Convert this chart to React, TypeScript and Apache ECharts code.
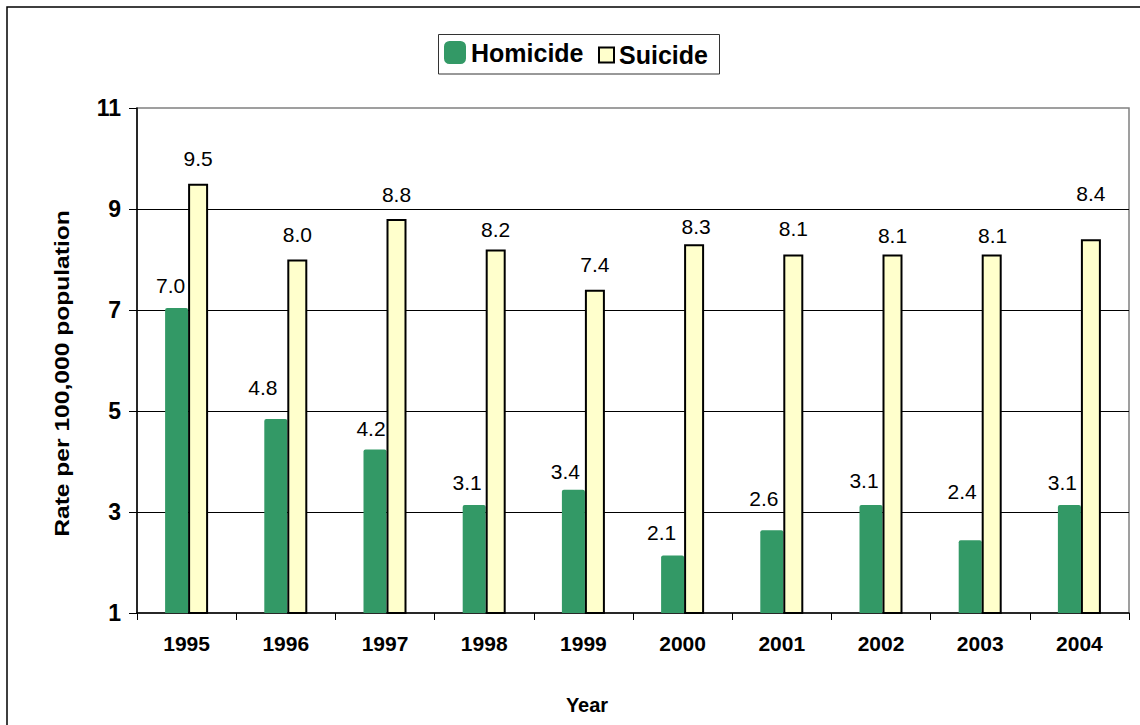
import React, { useEffect, useRef } from "react";
import * as echarts from "echarts";

const years = ["1995", "1996", "1997", "1998", "1999", "2000", "2001", "2002", "2003", "2004"];
const homicide = [7.04, 4.84, 4.24, 3.14, 3.44, 2.14, 2.64, 3.14, 2.44, 3.14];
const suicide = [9.5, 8.0, 8.8, 8.2, 7.4, 8.3, 8.1, 8.1, 8.1, 8.4];
const yTicks = [1, 3, 5, 7, 9, 11];
const yTitle = "Rate per 100,000 population";
const xTitle = "Year";

// label nudges (pixels) copied from the reference's hand-placed labels
const homicideLabelShift = [
  [-6, -12], [-13, -21], [-4, -10], [-7, -12], [-8, -8],
  [-11, -12], [-8, -21], [-7, -14], [-8, -38], [-7, -12],
];
const suicideLabelShift = [
  [0, -15], [0, -15], [0, -14], [0, -9], [0, -15],
  [2, -7], [0, -15], [0, -8], [1, -8], [0, -35],
];

const FONT = 'Arial, "Liberation Sans", Helvetica, sans-serif';

export default function App() {
  const ref = useRef<HTMLDivElement>(null);
  useEffect(() => {
    document.body.style.margin = "0";
    if (!ref.current) return;
    const chart = echarts.init(ref.current, null, { renderer: "svg" });
    const labelFmt = (p: any) => Number(p.value).toFixed(1);
    chart.setOption({
      animation: false,
      backgroundColor: "#ffffff",
      textStyle: { fontFamily: FONT },
      grid: {
        left: 137,
        right: 11,
        top: 108,
        bottom: 112,
        show: true,
        borderColor: "#808080",
        borderWidth: 1.5,
        backgroundColor: "transparent",
      },
      graphic: [
        {
          type: "rect",
          z: 0,
          shape: { x: 7, y: 7, width: 1150, height: 740 },
          style: { fill: "none", stroke: "#000", lineWidth: 1.5 },
        },
        {
          type: "rect",
          z: 0,
          shape: { x: 438.5, y: 34.5, width: 281, height: 39.5 },
          style: { fill: "none", stroke: "#333", lineWidth: 1 },
        },
        {
          type: "text",
          x: 62,
          y: 373.5,
          rotation: Math.PI / 2,
          scaleX: 1.23,
          style: {
            text: yTitle,
            fontFamily: FONT,
            fontWeight: "bold",
            fontSize: 20,
            fill: "#000",
            align: "center",
            verticalAlign: "middle",
          },
        },
      ],
      legend: [
        {
          data: ["Homicide"],
          left: 444,
          top: 40,
          padding: 0,
          itemWidth: 22,
          itemHeight: 23,
          icon: "roundRect",
          selectedMode: false,
          textStyle: {
            fontFamily: FONT,
            fontWeight: "bold",
            fontSize: 25,
            color: "#000",
          },
        },
        {
          data: ["Suicide"],
          left: 598,
          top: 42.5,
          padding: 0,
          itemWidth: 15,
          itemHeight: 15,
          icon: "rect",
          selectedMode: false,
          textStyle: {
            fontFamily: FONT,
            fontWeight: "bold",
            fontSize: 25,
            color: "#000",
          },
        },
      ],
      xAxis: {
        type: "category",
        data: years,
        axisLine: { show: true, lineStyle: { color: "#000", width: 1.5 } },
        axisTick: { show: true, length: 7, lineStyle: { color: "#000", width: 1 } },
        axisLabel: {
          fontFamily: FONT,
          fontWeight: "bold",
          fontSize: 21,
          color: "#000",
          margin: 20,
        },
        splitLine: { show: false },
        name: xTitle,
        nameLocation: "middle",
        nameGap: 82,
        nameTextStyle: {
          fontFamily: FONT,
          fontWeight: "bold",
          fontSize: 20,
          color: "#000",
          padding: [0, 92, 0, 0],
        },
      },
      yAxis: {
        type: "value",
        min: 1,
        max: 11,
        axisLine: { show: true, lineStyle: { color: "#000", width: 1.5 } },
        axisTick: { show: true, length: 8, lineStyle: { color: "#000", width: 1 }, customValues: yTicks },
        axisLabel: {
          customValues: yTicks,
          fontFamily: FONT,
          fontWeight: "bold",
          fontSize: 23,
          color: "#000",
          margin: 16,
        },
        splitLine: {
          show: true,
          showMinLine: false,
          showMaxLine: false,
          lineStyle: { color: "#000", width: 1 },
        },
      },
      series: [
        {
          name: "Homicide",
          type: "bar",
          barWidth: 23,
          barGap: "0%",
          itemStyle: { color: "#339966", borderRadius: [2, 2, 0, 0] },
          label: {
            show: true,
            position: "top",
            distance: 0,
            fontFamily: FONT,
            fontSize: 21,
            color: "#000",
            formatter: labelFmt,
          },
          data: homicide.map((v, i) => ({ value: v, label: { offset: homicideLabelShift[i] } })),
        },
        {
          name: "Suicide",
          type: "bar",
          barWidth: 20,
          barGap: "0%",
          itemStyle: { color: "#FFFFCC", borderColor: "#000", borderWidth: 2 },
          label: {
            show: true,
            position: "top",
            distance: 0,
            fontFamily: FONT,
            fontSize: 21,
            color: "#000",
            formatter: labelFmt,
          },
          data: suicide.map((v, i) => ({ value: v, label: { offset: suicideLabelShift[i] } })),
        },
      ],
    });
    return () => chart.dispose();
  }, []);
  return <div ref={ref} style={{ width: 1140, height: 725 }} />;
}
